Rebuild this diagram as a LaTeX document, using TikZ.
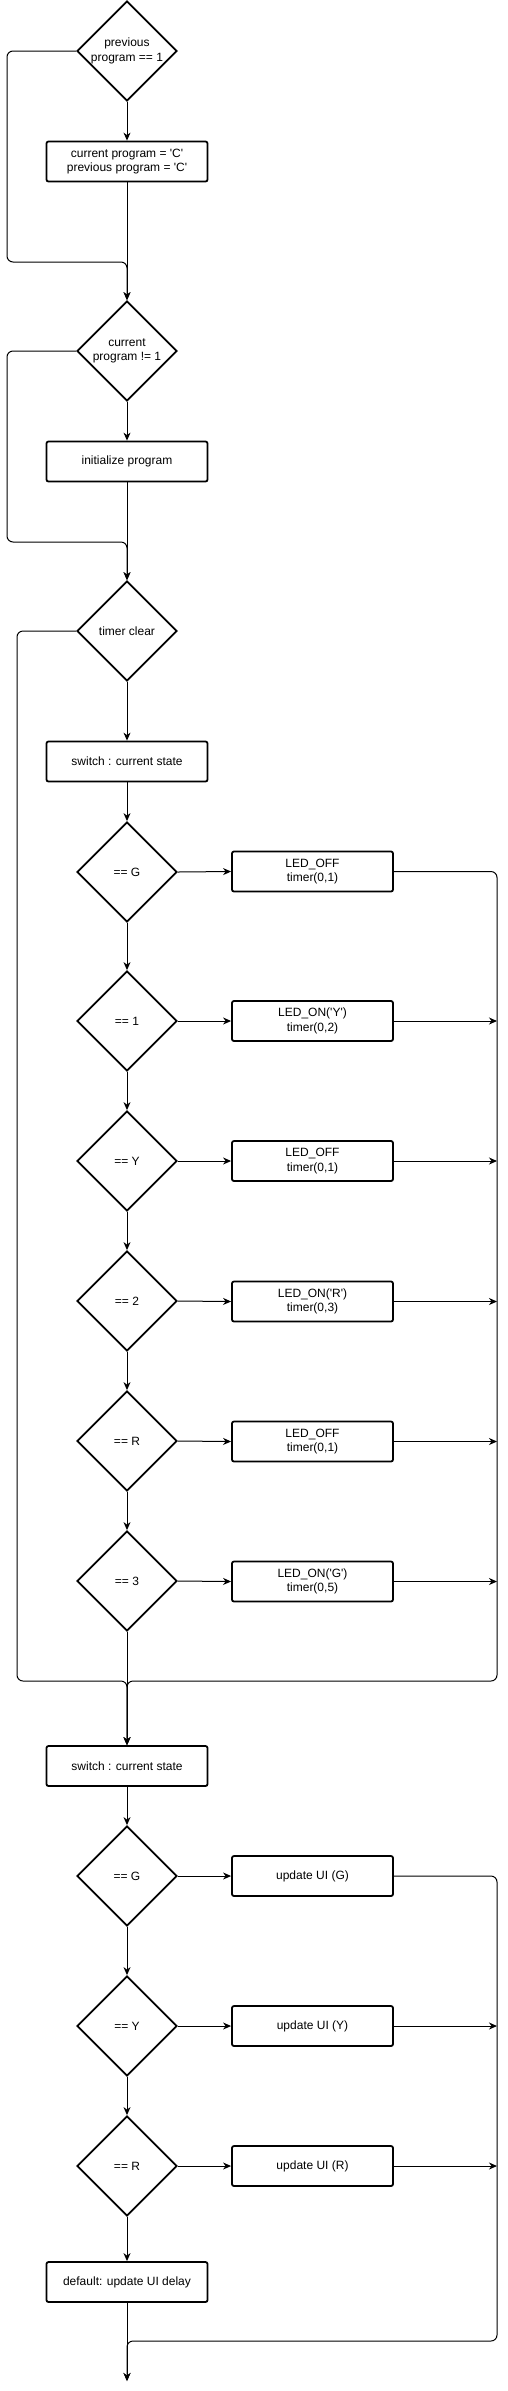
\documentclass[tikz,border=0pt]{standalone}
\usepackage{fontspec}
\setmainfont{Liberation Sans}
\usetikzlibrary{shapes.geometric,arrows.meta}
\newcommand{\sq}{\textquotesingle}
\begin{document}
\begin{tikzpicture}[x=1pt,y=-1pt,
  font=\fontsize{12}{14.5}\selectfont,
  box/.style={draw, line width=1.8pt, rounded corners=2pt, minimum width=161pt, minimum height=40pt, inner sep=0pt, align=center},
  dia/.style={draw, line width=1.8pt, diamond, minimum width=100pt, minimum height=100pt, inner sep=0pt},
  dtext/.style={label={[align=center]center:#1}},
  conn/.style={line width=1pt, -{Stealth[length=8pt,width=7pt,inset=2.5pt]}},
  rpath/.style={conn, rounded corners=6pt},
  cline/.style={line width=1pt, rounded corners=6pt}
]
\useasboundingbox (0,0) rectangle (507,2391);

% top section
\node[dia, dtext={previous\\program == 1}] (d1) at (127,51) {};
\node[box] (b1) at (127,161.5) {current program = \sq C\sq\\previous program = \sq C\sq};
\node[dia, dtext={current\\program != 1}] (d2) at (127,351) {};
\node[box] (b2) at (127,461.5) {initialize program};
\node[dia, dtext={timer clear}] (d3) at (127,631) {};
\node[box] (s1) at (127,761.5) {switch : current state};

% first switch
\node[dia, dtext={== G}] (g1) at (127,872) {};
\node[box] (l1) at (312.5,871.5) {LED\_OFF\\timer(0,1)};
\node[dia, dtext={== 1}] (c1) at (127,1021) {};
\node[box] (l2) at (312.5,1021) {LED\_ON(\sq Y\sq)\\timer(0,2)};
\node[dia, dtext={== Y}] (y1) at (127,1161) {};
\node[box] (l3) at (312.5,1161) {LED\_OFF\\timer(0,1)};
\node[dia, dtext={== 2}] (c2) at (127,1301) {};
\node[box] (l4) at (312.5,1301.5) {LED\_ON(\sq R\sq)\\timer(0,3)};
\node[dia, dtext={== R}] (r1) at (127,1441) {};
\node[box] (l5) at (312.5,1441.5) {LED\_OFF\\timer(0,1)};
\node[dia, dtext={== 3}] (c3) at (127,1581) {};
\node[box] (l6) at (312.5,1581.5) {LED\_ON(\sq G\sq)\\timer(0,5)};

% second switch
\node[box] (s2) at (127,1766) {switch : current state};
\node[dia, dtext={== G}] (g2) at (127,1876) {};
\node[box] (u1) at (312.5,1876) {update UI (G)};
\node[dia, dtext={== Y}] (y2) at (127,2026) {};
\node[box] (u2) at (312.5,2026) {update UI (Y)};
\node[dia, dtext={== R}] (r2) at (127,2166) {};
\node[box] (u3) at (312.5,2166) {update UI (R)};
\node[box] (df) at (127,2282) {default: update UI delay};
\coordinate (fin) at (127,2381);

% connectors: top
\draw[conn] (d1.south) -- (b1.north);
\draw[conn] (b1.south) -- (d2.north);
\draw[rpath] (d1.west) -- (7,51) -- (7,262) -- (127,262) -- (d2.north);
\draw[conn] (d2.south) -- (b2.north);
\draw[conn] (b2.south) -- (d3.north);
\draw[rpath] (d2.west) -- (7,351) -- (7,542) -- (127,542) -- (d3.north);
\draw[conn] (d3.south) -- (s1.north);
\draw[conn] (s1.south) -- (g1.north);

% first switch chain
\draw[conn] (g1.south) -- (c1.north);
\draw[conn] (c1.south) -- (y1.north);
\draw[conn] (y1.south) -- (c2.north);
\draw[conn] (c2.south) -- (r1.north);
\draw[conn] (r1.south) -- (c3.north);
\draw[conn] (c3.south) -- (s2.north);
\draw[conn] (g1.east) -- (l1.west);
\draw[conn] (c1.east) -- (l2.west);
\draw[conn] (y1.east) -- (l3.west);
\draw[conn] (c2.east) -- (l4.west);
\draw[conn] (r1.east) -- (l5.west);
\draw[conn] (c3.east) -- (l6.west);
\draw[rpath] (l1.east) -- (497,871.5) -- (497,1681) -- (127,1681) -- (s2.north);
\draw[conn] (l2.east) -- (497,1021);
\draw[conn] (l3.east) -- (497,1161);
\draw[conn] (l4.east) -- (497,1301.5);
\draw[conn] (l5.east) -- (497,1441.5);
\draw[conn] (l6.east) -- (497,1581.5);
\draw[rpath] (d3.west) -- (17,631) -- (17,1681) -- (127,1681) -- (s2.north);

% second switch chain
\draw[conn] (s2.south) -- (g2.north);
\draw[conn] (g2.south) -- (y2.north);
\draw[conn] (y2.south) -- (r2.north);
\draw[conn] (r2.south) -- (df.north);
\draw[conn] (g2.east) -- (u1.west);
\draw[conn] (y2.east) -- (u2.west);
\draw[conn] (r2.east) -- (u3.west);
\draw[conn] (u2.east) -- (497,2026);
\draw[conn] (u3.east) -- (497,2166);
\draw[rpath] (u1.east) -- (497,1876) -- (497,2341) -- (127,2341) -- (fin);
\draw[conn] (df.south) -- (fin);
\end{tikzpicture}
\end{document}
